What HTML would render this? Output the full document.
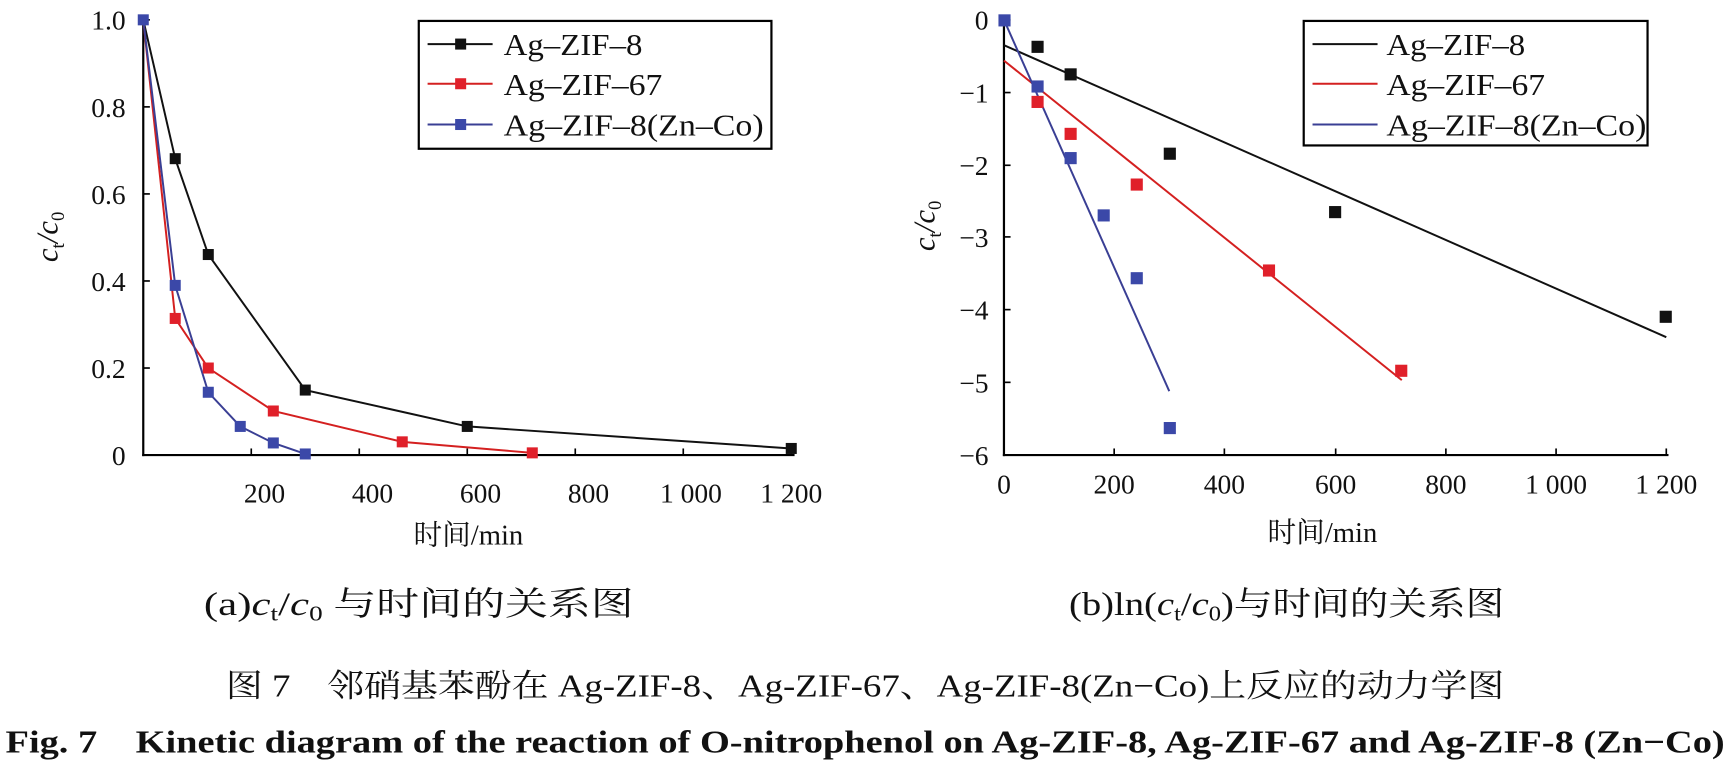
<!DOCTYPE html>
<html><head><meta charset="utf-8"><style>
html,body{margin:0;padding:0;background:#fff;width:1728px;height:768px;overflow:hidden}
svg{display:block}
text{font-family:"Liberation Serif","Noto Serif CJK SC",serif;fill:#111}
</style></head><body>
<svg width="1728" height="768" viewBox="0 0 1568 697" preserveAspectRatio="none" xmlns="http://www.w3.org/2000/svg">
<g font-size="25">
<!-- LEFT PLOT -->
<line x1="130" y1="17" x2="130" y2="414" stroke="#000" stroke-width="2"/>
<line x1="129" y1="413" x2="721" y2="413" stroke="#000" stroke-width="2"/>
<g stroke="#000" stroke-width="1.5">
<line x1="130" y1="18" x2="136" y2="18"/><line x1="130" y1="97" x2="136" y2="97"/><line x1="130" y1="176" x2="136" y2="176"/><line x1="130" y1="255" x2="136" y2="255"/><line x1="130" y1="334" x2="136" y2="334"/>
<line x1="228" y1="413" x2="228" y2="407"/><line x1="326" y1="413" x2="326" y2="407"/><line x1="424" y1="413" x2="424" y2="407"/><line x1="522" y1="413" x2="522" y2="407"/><line x1="620" y1="413" x2="620" y2="407"/><line x1="718" y1="413" x2="718" y2="407"/>
</g>
<g text-anchor="end"><text x="114" y="27">1.0</text><text x="114" y="106">0.8</text><text x="114" y="185">0.6</text><text x="114" y="264">0.4</text><text x="114" y="343">0.2</text><text x="114" y="422">0</text></g>
<g text-anchor="middle"><text x="240" y="456">200</text><text x="338" y="456">400</text><text x="436" y="456">600</text><text x="534" y="456">800</text><text x="627" y="456">1 000</text><text x="718" y="456">1 200</text>
<text x="425" y="494" font-size="26">时间/min</text></g>
<text transform="translate(52,215) rotate(-90)" text-anchor="middle" font-style="italic" font-size="28">c<tspan font-size="17" dy="6" font-style="normal">t</tspan><tspan dy="-6">/c</tspan><tspan font-size="17" dy="6" font-style="normal">0</tspan></text>
<polyline fill="none" stroke="#111" stroke-width="1.8" points="130,18 159,144 189,231 277,354 424,387 718,407"/>
<polyline fill="none" stroke="#d42020" stroke-width="1.8" points="130,18 159,289 189,334 248,373 365,401 483,411"/>
<polyline fill="none" stroke="#3a3f94" stroke-width="1.8" points="130,18 159,259 189,356 218,387 248,402 277,412"/>
<g fill="#111"><rect x="154" y="139" width="10" height="10"/><rect x="184" y="226" width="10" height="10"/><rect x="272" y="349" width="10" height="10"/><rect x="419" y="382" width="10" height="10"/><rect x="713" y="402" width="10" height="10"/></g>
<g fill="#e0202a"><rect x="154" y="284" width="10" height="10"/><rect x="184" y="329" width="10" height="10"/><rect x="243" y="368" width="10" height="10"/><rect x="360" y="396" width="10" height="10"/><rect x="478" y="406" width="10" height="10"/></g>
<g fill="#3b48a8"><rect x="125" y="13" width="10" height="10"/><rect x="154" y="254" width="10" height="10"/><rect x="184" y="351" width="10" height="10"/><rect x="213" y="382" width="10" height="10"/><rect x="243" y="397" width="10" height="10"/><rect x="272" y="407" width="10" height="10"/></g>
<rect x="380" y="19" width="320" height="116" fill="#fff" stroke="#000" stroke-width="2"/>
<line x1="388" y1="40" x2="447" y2="40" stroke="#111" stroke-width="1.8"/><rect x="413" y="35" width="10" height="10" fill="#111"/>
<line x1="388" y1="76" x2="447" y2="76" stroke="#d42020" stroke-width="1.8"/><rect x="413" y="71" width="10" height="10" fill="#e0202a"/>
<line x1="388" y1="113" x2="447" y2="113" stroke="#3a3f94" stroke-width="1.8"/><rect x="413" y="108" width="10" height="10" fill="#3b48a8"/>
<g font-size="28"><text x="457" y="50" textLength="126" lengthAdjust="spacingAndGlyphs">Ag–ZIF–8</text><text x="457" y="86" textLength="144" lengthAdjust="spacingAndGlyphs">Ag–ZIF–67</text><text x="457" y="123" textLength="236" lengthAdjust="spacingAndGlyphs">Ag–ZIF–8(Zn–Co)</text></g>

<!-- RIGHT PLOT -->
<line x1="911" y1="17" x2="911" y2="414" stroke="#000" stroke-width="2"/>
<line x1="910" y1="413" x2="1514" y2="413" stroke="#000" stroke-width="2"/>
<g stroke="#000" stroke-width="1.5">
<line x1="911" y1="18" x2="917" y2="18"/><line x1="911" y1="84" x2="917" y2="84"/><line x1="911" y1="150" x2="917" y2="150"/><line x1="911" y1="215" x2="917" y2="215"/><line x1="911" y1="281" x2="917" y2="281"/><line x1="911" y1="347" x2="917" y2="347"/>
<line x1="1011" y1="413" x2="1011" y2="407"/><line x1="1111" y1="413" x2="1111" y2="407"/><line x1="1212" y1="413" x2="1212" y2="407"/><line x1="1312" y1="413" x2="1312" y2="407"/><line x1="1412" y1="413" x2="1412" y2="407"/><line x1="1512" y1="413" x2="1512" y2="407"/>
</g>
<g text-anchor="end"><text x="897" y="27">0</text><text x="897" y="93">−1</text><text x="897" y="159">−2</text><text x="897" y="224">−3</text><text x="897" y="290">−4</text><text x="897" y="356">−5</text><text x="897" y="422">−6</text></g>
<g text-anchor="middle"><text x="911" y="448">0</text><text x="1011" y="448">200</text><text x="1111" y="448">400</text><text x="1212" y="448">600</text><text x="1312" y="448">800</text><text x="1412" y="448">1 000</text><text x="1512" y="448">1 200</text>
<text x="1200" y="492" font-size="26">时间/min</text></g>
<text transform="translate(848,205) rotate(-90)" text-anchor="middle" font-style="italic" font-size="28">c<tspan font-size="17" dy="6" font-style="normal">t</tspan><tspan dy="-6">/c</tspan><tspan font-size="17" dy="6" font-style="normal">0</tspan></text>
<line x1="911" y1="41" x2="1512" y2="306" stroke="#111" stroke-width="1.8"/>
<line x1="911" y1="55" x2="1272" y2="345" stroke="#d42020" stroke-width="1.8"/>
<line x1="911" y1="18" x2="1061" y2="355" stroke="#3a3f94" stroke-width="1.8"/>
<g fill="#111"><rect x="936" y="37" width="11" height="11"/><rect x="966" y="62" width="11" height="11"/><rect x="1056" y="134" width="11" height="11"/><rect x="1206" y="187" width="11" height="11"/><rect x="1506" y="282" width="11" height="11"/></g>
<g fill="#e0202a"><rect x="936" y="87" width="11" height="11"/><rect x="966" y="116" width="11" height="11"/><rect x="1026" y="162" width="11" height="11"/><rect x="1146" y="240" width="11" height="11"/><rect x="1266" y="331" width="11" height="11"/></g>
<g fill="#3b48a8"><rect x="906" y="13" width="11" height="11"/><rect x="936" y="73" width="11" height="11"/><rect x="966" y="138" width="11" height="11"/><rect x="996" y="190" width="11" height="11"/><rect x="1026" y="247" width="11" height="11"/><rect x="1056" y="383" width="11" height="11"/></g>
<rect x="1183" y="19" width="312" height="113" fill="#fff" stroke="#000" stroke-width="2"/>
<line x1="1191" y1="40" x2="1250" y2="40" stroke="#111" stroke-width="1.8"/>
<line x1="1191" y1="76" x2="1250" y2="76" stroke="#d42020" stroke-width="1.8"/>
<line x1="1191" y1="113" x2="1250" y2="113" stroke="#3a3f94" stroke-width="1.8"/>
<g font-size="28"><text x="1258" y="50" textLength="126" lengthAdjust="spacingAndGlyphs">Ag–ZIF–8</text><text x="1258" y="86" textLength="144" lengthAdjust="spacingAndGlyphs">Ag–ZIF–67</text><text x="1258" y="123" textLength="236" lengthAdjust="spacingAndGlyphs">Ag–ZIF–8(Zn–Co)</text></g>
</g>

<!-- CAPTIONS -->
<g font-size="30">
<text x="185" y="558" textLength="390" lengthAdjust="spacingAndGlyphs">(a)<tspan font-style="italic">c</tspan><tspan font-size="19" dy="5">t</tspan><tspan dy="-5">/</tspan><tspan font-style="italic">c</tspan><tspan font-size="19" dy="5">0</tspan><tspan dy="-5"> 与时间的关系图</tspan></text>
<text x="970" y="558" textLength="395" lengthAdjust="spacingAndGlyphs">(b)ln(<tspan font-style="italic">c</tspan><tspan font-size="19" dy="5">t</tspan><tspan dy="-5">/</tspan><tspan font-style="italic">c</tspan><tspan font-size="19" dy="5">0</tspan><tspan dy="-5">)与时间的关系图</tspan></text>
<text x="205" y="632" font-size="29" textLength="1160" lengthAdjust="spacingAndGlyphs">图 7　邻硝基苯酚在 Ag-ZIF-8、Ag-ZIF-67、Ag-ZIF-8(Zn−Co)上反应的动力学图</text>
<text x="5" y="683" font-size="29" font-weight="bold" textLength="1560" lengthAdjust="spacingAndGlyphs">Fig. 7　Kinetic diagram of the reaction of O-nitrophenol on Ag-ZIF-8, Ag-ZIF-67 and Ag-ZIF-8 (Zn−Co)</text>
</g>
</svg>
</body></html>
